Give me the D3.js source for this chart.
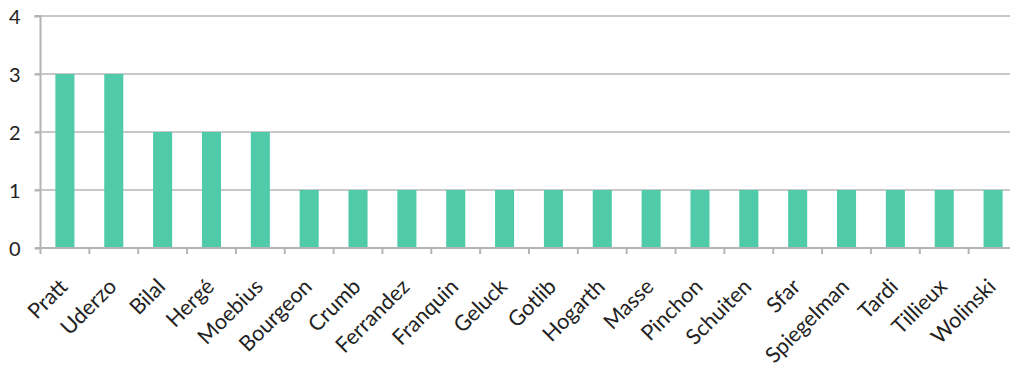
<!DOCTYPE html>
<html><head><meta charset="utf-8">
<script src="https://cdn.jsdelivr.net/npm/d3@7"></script>
<style>body{margin:0;background:#fff}svg{display:block}</style>
</head><body>
<script>
const categories = ["Pratt","Uderzo","Bilal","Hergé","Moebius","Bourgeon","Crumb","Ferrandez","Franquin","Geluck","Gotlib","Hogarth","Masse","Pinchon","Schuiten","Sfar","Spiegelman","Tardi","Tillieux","Wolinski"];
const values = [3,3,2,2,2,1,1,1,1,1,1,1,1,1,1,1,1,1,1,1];
const yTicks = [0,1,2,3,4];

const W = 1010, H = 368;
const svg = d3.select("body").append("svg").attr("width", W).attr("height", H);
const x0 = 40.5, x1 = 40.5 + 48.85*20;
const x = d3.scaleBand().domain(categories).range([x0, x1]).paddingInner(0.61).paddingOuter(0.305);
const y = d3.scaleLinear().domain([0,4]).range([248, 16]);
const font = "Lato, 'Open Sans', sans-serif";

// gridlines
svg.append("g").selectAll("line").data(yTicks.slice(1)).join("line")
  .attr("x1", 35).attr("x2", x1).attr("y1", d=>y(d)).attr("y2", d=>y(d))
  .attr("stroke", "#c8c8c8").attr("stroke-width", 2);

// bars
svg.append("g").selectAll("rect").data(values).join("rect")
  .attr("x", (d,i)=>x(categories[i])).attr("width", x.bandwidth())
  .attr("y", d=>y(d)).attr("height", d=>y(0)-y(d))
  .attr("fill", "#4fcba9");

// y axis
const yAxis = d3.axisLeft(y).tickValues(yTicks).tickSize(6).tickPadding(14).tickFormat(d3.format("d"));
const gy = svg.append("g").attr("transform", `translate(${x0},0)`).call(yAxis);
gy.select(".domain").attr("stroke", "#b4b4b4").attr("stroke-width", 2).attr("d", `M-6,${y(4)}H0V${y(0)}`);
gy.selectAll(".tick line").attr("stroke", "#b4b4b4").attr("stroke-width", 2);
gy.selectAll(".tick text").attr("font-family", font).attr("font-size", 20).attr("fill", "#222").attr("dy", "0.36em");

// x axis
const gx = svg.append("g").attr("transform", `translate(0,${y(0)})`);
gx.append("line").attr("x1", 35).attr("x2", x1).attr("stroke", "#b4b4b4").attr("stroke-width", 2);
const step = x.step();
gx.selectAll("line.t").data(d3.range(categories.length+1)).join("line").attr("class","t")
  .attr("x1", i=>x0 + i*step).attr("x2", i=>x0 + i*step).attr("y1", 0).attr("y2", 6)
  .attr("stroke", "#b4b4b4").attr("stroke-width", 2);
gx.selectAll("text").data(categories).join("text")
  .attr("transform", d=>`translate(${x(d)+x.bandwidth()/2+4},${40}) rotate(-45)`)
  .attr("text-anchor", "end")
  .attr("font-family", font).attr("font-size", 21.5).attr("fill", "#222")
  .text(d=>d);
</script>
</body></html>
